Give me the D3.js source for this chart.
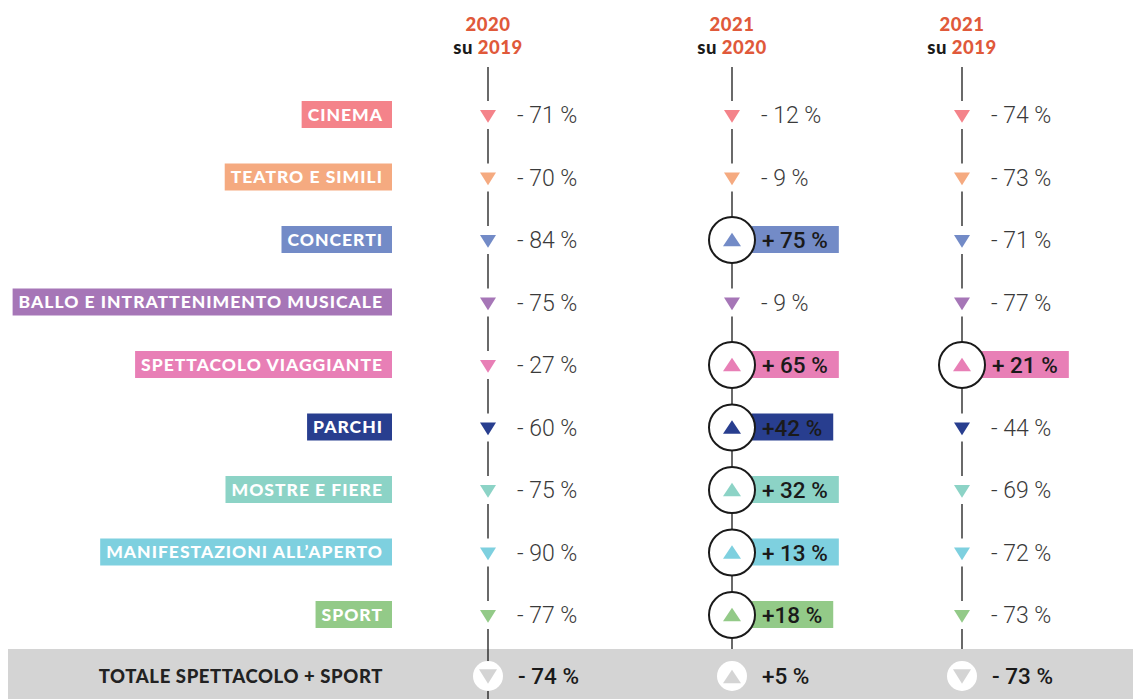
<!DOCTYPE html>
<html><head><meta charset="utf-8">
<script src="https://cdn.jsdelivr.net/npm/d3@7"></script>
<style>
html,body{margin:0;padding:0;background:#fff;}
svg{display:block;}
</style></head>
<body>
<svg id="chart" width="1133" height="699"></svg>
<script>
const categories = ["CINEMA","TEATRO E SIMILI","CONCERTI","BALLO E INTRATTENIMENTO MUSICALE","SPETTACOLO VIAGGIANTE","PARCHI","MOSTRE E FIERE","MANIFESTAZIONI ALL’APERTO","SPORT"];
const categoryColors = ["#f4838a","#f5aa80","#738bc7","#a676b7","#e87fb6","#283e8f","#8cd3c6","#7ed0df","#93ca88"];
const columns = [["2020","2019"],["2021","2020"],["2021","2019"]];
const values2020su2019 = [-71,-70,-84,-75,-27,-60,-75,-90,-77];
const values2021su2020 = [-12,-9,75,-9,65,42,32,13,18];
const values2021su2019 = [-74,-73,-71,-77,21,-44,-69,-72,-73];
// labels as printed (spacing as in the original)
const labels2020su2019 = ["- 71 %","- 70 %","- 84 %","- 75 %","- 27 %","- 60 %","- 75 %","- 90 %","- 77 %"];
const labels2021su2020 = ["- 12 %","- 9 %","+ 75 %","- 9 %","+ 65 %","+42 %","+ 32 %","+ 13 %","+18 %"];
const labels2021su2019 = ["- 74 %","- 73 %","- 71 %","- 77 %","+ 21 %","- 44 %","- 69 %","- 72 %","- 73 %"];
const totalLabel = "TOTALE SPETTACOLO + SPORT";
const totalValues = [-74, 5, -73];
const totalLabels = ["- 74 %","+5 %","- 73 %"];

const allValues = [values2020su2019, values2021su2020, values2021su2019];
const allLabels = [labels2020su2019, labels2021su2020, labels2021su2019];

const svg = d3.select("#chart");
const y = d3.scalePoint().domain(categories).range([115, 615]);
const yTotal = 676;
const x = d3.scaleOrdinal().domain([0,1,2]).range([488, 732, 962]);
const color = d3.scaleOrdinal().domain(categories).range(categoryColors);

// grey total band
svg.append("rect").attr("x", 8).attr("y", 649).attr("width", 1125).attr("height", 50).attr("fill", "#d4d4d4");

// headers
const orange = "#e0593a";
columns.forEach((c, i) => {
  const g = svg.append("g").attr("transform", `translate(${x(i)},0)`);
  g.append("text").attr("x", 0).attr("y", 31).attr("text-anchor", "middle")
    .attr("font-family", "Lato").attr("font-weight", 900).attr("font-size", 18.5).attr("letter-spacing", 0.5).attr("fill", orange).text(c[0]);
  const t = g.append("text").attr("x", 0).attr("y", 54).attr("text-anchor", "middle")
    .attr("font-family", "Lato").attr("font-weight", 900).attr("font-size", 18.5).attr("letter-spacing", 0.5);
  t.append("tspan").attr("fill", "#1a1a1a").text("su ");
  t.append("tspan").attr("fill", orange).text(c[1]);
});

// vertical line segments
const gap = v => v > 0 ? 23 : 14;
columns.forEach((c, ci) => {
  const vals = allValues[ci];
  const g = svg.append("g").attr("stroke", "#1a1a1a").attr("stroke-width", 1.3);
  categories.forEach((cat, i) => {
    const cy = y(cat);
    const y0 = i === 0 ? 67 : y(categories[i-1]) + gap(vals[i-1]);
    g.append("line").attr("x1", x(ci)).attr("x2", x(ci)).attr("y1", y0).attr("y2", cy - gap(vals[i]));
  });
  const last = categories.length - 1;
  g.append("line").attr("x1", x(ci)).attr("x2", x(ci))
    .attr("y1", y(categories[last]) + gap(vals[last])).attr("y2", ci === 0 ? 699 : 649);
});

// category label boxes
const labelG = svg.append("g");
categories.forEach((cat, i) => {
  const t = labelG.append("text").attr("x", 383).attr("y", y(cat) + 5.5).attr("text-anchor", "end")
    .attr("font-family", "Lato").attr("font-weight", 900).attr("font-size", 17.5)
    .attr("letter-spacing", 1.0).attr("fill", "#fff").text(cat);
  const bb = t.node().getBBox();
  labelG.insert("rect", "text").attr("x", bb.x - 6).attr("y", y(cat) - 14).attr("width", 392 - (bb.x - 6)).attr("height", 27)
    .attr("fill", color(cat));
});

// markers
const downTri = (cx, cy, s) => `M${cx - s},${cy - s*0.75}L${cx + s},${cy - s*0.75}L${cx},${cy + s*0.85}Z`;
const upTri = (cx, cy, s) => `M${cx - s},${cy + s*0.7}L${cx + s},${cy + s*0.7}L${cx},${cy - s*0.8}Z`;

columns.forEach((c, ci) => {
  const vals = allValues[ci], labs = allLabels[ci];
  const g = svg.append("g");
  categories.forEach((cat, i) => {
    const cx = x(ci), cy = y(cat);
    if (vals[i] < 0) {
      g.append("path").attr("d", downTri(cx, cy + 1, 8)).attr("fill", color(cat));
      g.append("text").attr("x", cx + 29).attr("y", cy + 8).attr("font-family", "Roboto").attr("font-weight", 300)
        .attr("font-size", 23).attr("fill", "#3a3a3a").text(labs[i]);
    } else {
      const t = g.append("text").attr("x", cx + 30).attr("y", cy + 8).attr("font-family", "Roboto").attr("font-weight", 500)
        .attr("font-size", 22.5).attr("fill", "#1a1a1a").text(labs[i]);
      const w = t.node().getComputedTextLength();
      g.insert("rect", "text").attr("x", cx + 20).attr("y", cy - 14).attr("width", w + 21).attr("height", 27).attr("fill", color(cat));
      g.append("circle").attr("cx", cx).attr("cy", cy).attr("r", 23).attr("fill", "#fff").attr("stroke", "#1a1a1a").attr("stroke-width", 2);
      g.append("path").attr("d", upTri(cx, cy, 9)).attr("fill", color(cat));
    }
  });
});

// total row
svg.append("text").attr("x", 383).attr("y", yTotal + 6.5).attr("text-anchor", "end")
  .attr("font-family", "Lato").attr("font-weight", 900).attr("font-size", 18.5).attr("letter-spacing", 0.6)
  .attr("fill", "#222").text(totalLabel);
columns.forEach((c, ci) => {
  const cx = x(ci), v = totalValues[ci];
  svg.append("circle").attr("cx", cx).attr("cy", yTotal).attr("r", 15).attr("fill", "#fff");
  svg.append("path").attr("d", v < 0 ? downTri(cx, yTotal, 9) : upTri(cx, yTotal + 1, 9)).attr("fill", "#d4d4d4");
  svg.append("text").attr("x", cx + 30).attr("y", yTotal + 8).attr("font-family", "Roboto").attr("font-weight", 500)
    .attr("font-size", 22.5).attr("fill", "#1a1a1a").text(totalLabels[ci]);
});
</script>
</body></html>
